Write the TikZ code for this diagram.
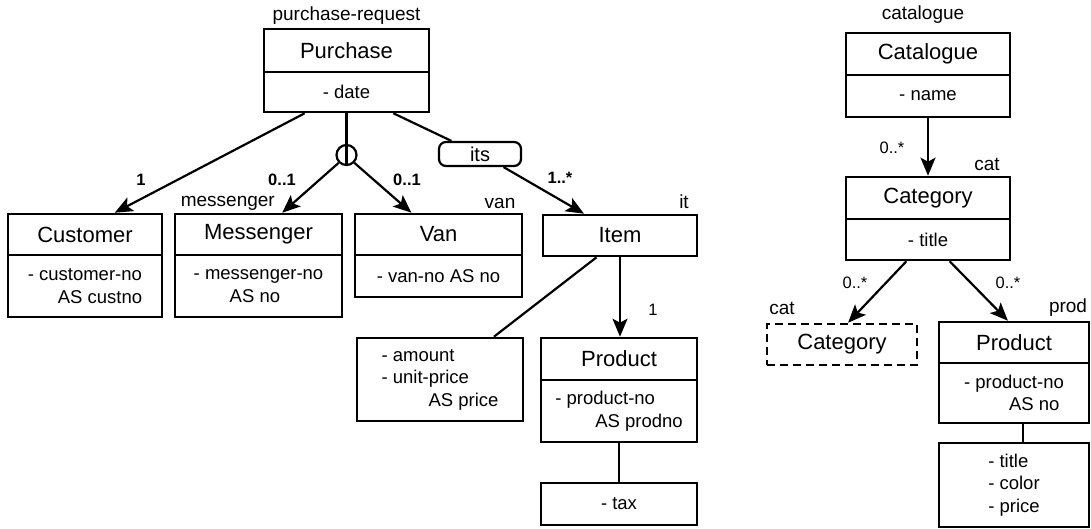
\documentclass[tikz,border=0pt]{standalone}
\usepackage{fontspec}
\setmainfont{Liberation Sans}
\usetikzlibrary{arrows.meta,calc}

\tikzset{
  box/.style={draw, line width=2.6pt, inner sep=0pt, anchor=center},
  cname/.style={box, font=\fontsize{22}{26}\selectfont},
  cattr/.style={box, align=left, font=\fontsize{18.5}{22.5}\selectfont},
  rolename/.style={inner sep=0pt, font=\fontsize{19}{22}\selectfont},
  mult/.style={inner sep=0pt, font=\fontsize{16.5}{19}\selectfont\bfseries},
  multlight/.style={inner sep=0pt, font=\fontsize{16.5}{19}\selectfont},
  link/.style={line width=2.2pt},
  arr/.style={link, -{Stealth[length=18pt,width=15pt,inset=4pt]}},
}

\begin{document}
\begin{tikzpicture}[x=1pt,y=-1pt]
\useasboundingbox[fill=white] (0,0) rectangle (1091,529);

% ---------- purchase request ----------
\node[cname, minimum width=165pt, minimum height=43pt] (purT) at (346.5,50.5) {Purchase};
\node[cattr, minimum width=165pt, minimum height=40pt] (purA) at (346.5,92) {- date};
\node[rolename] (purR) at (346.5,16) {purchase-request};

\node[cname, minimum width=154pt, minimum height=41pt] (cusT) at (85,234.5) {Customer};
\node[cattr, minimum width=154pt, minimum height=62pt] (cusA) at (85,286) {- customer-no\\\hspace*{30pt}AS custno};

\node[cname, minimum width=167pt, minimum height=41pt] (mesT) at (258.5,234.5) {Messenger};
\node[cattr, minimum width=167pt, minimum height=62pt] (mesA) at (258.5,286) {- messenger-no\\\hspace*{36pt}AS no};
\node[rolename, anchor=east] (mesR) at (275,203) {messenger};

\node[cname, minimum width=167pt, minimum height=41pt] (vanT) at (438.5,234.5) {Van};
\node[cattr, minimum width=167pt, minimum height=42pt] (vanA) at (438.5,276) {- van-no AS no};
\node[rolename] (vanR) at (500,203) {van};

\node[cname, minimum width=154pt, minimum height=41pt] (item) at (620,235.5) {Item};
\node[rolename] (itemR) at (684,202) {it};

\node[cattr, minimum width=166pt, minimum height=83pt] (iatt) at (440,379.5) {- amount\\- unit-price\\\hspace*{47pt}AS price};

\node[cname, minimum width=156pt, minimum height=42pt] (plT) at (619,359) {Product};
\node[cattr, minimum width=156pt, minimum height=62pt] (plA) at (619,411) {- product-no\\\hspace*{40pt}AS prodno};
\node[cattr, minimum width=156pt, minimum height=42pt] (tax) at (619,504) {- tax};

\node[box, rounded corners=7pt, line width=2.2pt, minimum width=82pt, minimum height=24pt,
      font=\fontsize{20}{22}\selectfont] (its) at (480,154) {its};
\node[circle, draw, line width=2.2pt, minimum size=20pt, inner sep=0pt] (xor) at (346.5,155) {};

% connectors
\draw[arr] ($(purA.south west)!0.25!(purA.south east)$) -- ($(cusT.north west)!0.69!(cusT.north east)$);
\draw[link] (purA.south) -- (xor.north);
\draw[link] (xor.north) -- (xor.south);
\draw[arr] (xor.south west) -- ($(mesT.north west)!0.64!(mesT.north east)$);
\draw[arr] (xor.south east) -- ($(vanT.north west)!0.34!(vanT.north east)$);
\draw[link] ($(purA.south west)!0.78!(purA.south east)$) -- ($(its.north west)!0.16!(its.north east)$);
\draw[arr] ($(its.south west)!0.78!(its.south east)$) -- ($(item.north west)!0.27!(item.north east)$);
\draw[link] ($(item.south west)!0.35!(item.south east)$) -- ($(iatt.north west)!0.82!(iatt.north east)$);
\draw[arr] (item.south) -- (item.south |- plT.north);
\draw[link] (plA.south) -- (tax.north);

% multiplicities
\node[mult] (m1) at (141,180) {1};
\node[mult] (m2) at (282,180) {0..1};
\node[mult] (m3) at (407,180) {0..1};
\node[mult] (m4) at (560,178) {1..*};
\node[multlight] (m5) at (653,310) {1};

% ---------- catalogue ----------
\node[cname, minimum width=164pt, minimum height=42pt] (catT) at (928,54) {Catalogue};
\node[cattr, minimum width=164pt, minimum height=42pt] (catA) at (928,96) {- name};
\node[rolename] (catR) at (923,15) {catalogue};

\node[cname, minimum width=164pt, minimum height=42pt] (cgT) at (928,198) {Category};
\node[cattr, minimum width=164pt, minimum height=41pt] (cgA) at (928,239.5) {- title};
\node[rolename] (cgR) at (987,164) {cat};

\node[cname, dashed, dash pattern=on 8pt off 5pt, minimum width=150pt, minimum height=41pt] (cgD) at (842,344.5) {Category};
\node[rolename] (cgDR) at (782,308) {cat};

\node[cname, minimum width=150pt, minimum height=41pt] (prT) at (1014,342.5) {Product};
\node[cattr, minimum width=150pt, minimum height=60pt] (prA) at (1014,393) {- product-no\\\hspace*{45pt}AS no};
\node[cattr, minimum width=150pt, minimum height=84pt] (prX) at (1014,485) {- title\\- color\\- price};
\node[rolename] (prR) at (1068,308) {prod};

\draw[arr] (catA.south) -- (cgT.north);
\draw[arr] ($(cgA.south west)!0.37!(cgA.south east)$) -- ($(cgD.north west)!0.54!(cgD.north east)$);
\draw[arr] ($(cgA.south west)!0.63!(cgA.south east)$) -- ($(prT.north west)!0.46!(prT.north east)$);
\draw[link] ($(prA.south west)!0.56!(prA.south east)$) -- ($(prX.north west)!0.56!(prX.north east)$);

\node[multlight] (m6) at (892,148) {0..*};
\node[multlight] (m7) at (855,283) {0..*};
\node[multlight] (m8) at (1008,283) {0..*};
\end{tikzpicture}
\end{document}
